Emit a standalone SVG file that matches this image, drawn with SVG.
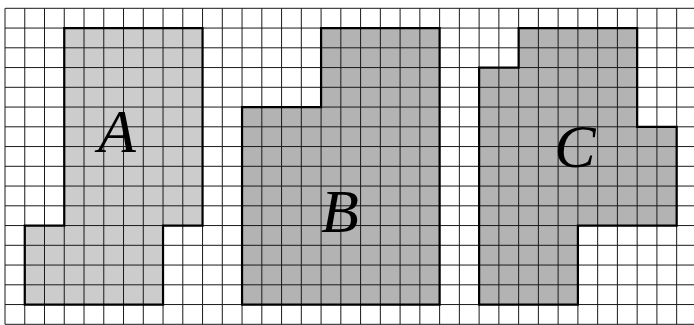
<svg xmlns="http://www.w3.org/2000/svg" width="694" height="325" viewBox="0 0 694 325">
<style>
.grid{fill:none;stroke:#1a1a1a;stroke-width:1}
.edge{fill:none;stroke:#000;stroke-width:2.2;stroke-linejoin:miter}
.lab{font-family:"Liberation Serif","DejaVu Serif",serif;font-style:italic;font-size:62px;fill:#000;text-anchor:middle}
</style>
<rect x="0" y="0" width="694" height="325" fill="#fff"/>
<g transform="translate(5,8.3) scale(19.755,19.75)">
  <g id="A">
    <path d="M3,1 H10 V11 H8 V15 H1 V11 H3 Z" fill="#cccccc"/>
  </g>
  <g id="B">
    <path d="M16,1 H22 V15 H12 V5 H16 Z" fill="#b3b3b3"/>
  </g>
  <g id="C">
    <path d="M26,1 H32 V6 H34 V11 H29 V15 H24 V3 H26 Z" fill="#b3b3b3"/>
  </g>
  <path class="grid" vector-effect="non-scaling-stroke" d="M0,0V16M1,0V16M2,0V16M3,0V16M4,0V16M5,0V16M6,0V16M7,0V16M8,0V16M9,0V16M10,0V16M11,0V16M12,0V16M13,0V16M14,0V16M15,0V16M16,0V16M17,0V16M18,0V16M19,0V16M20,0V16M21,0V16M22,0V16M23,0V16M24,0V16M25,0V16M26,0V16M27,0V16M28,0V16M29,0V16M30,0V16M31,0V16M32,0V16M33,0V16M34,0V16M0,0H36M0,1H36M0,2H36M0,3H36M0,4H36M0,5H36M0,6H36M0,7H36M0,8H36M0,9H36M0,10H36M0,11H36M0,12H36M0,13H36M0,14H36M0,15H36M0,16H36"/>
  <path class="edge" vector-effect="non-scaling-stroke" d="M3,1 H10 V11 H8 V15 H1 V11 H3 Z"/>
  <path class="edge" vector-effect="non-scaling-stroke" d="M16,1 H22 V15 H12 V5 H16 Z"/>
  <path class="edge" vector-effect="non-scaling-stroke" d="M26,1 H32 V6 H34 V11 H29 V15 H24 V3 H26 Z"/>
</g>
<g id="labels">
  <text class="lab" x="117" y="152">A</text>
  <text class="lab" x="340" y="232">B</text>
  <text class="lab" x="575" y="167">C</text>
</g>
</svg>
